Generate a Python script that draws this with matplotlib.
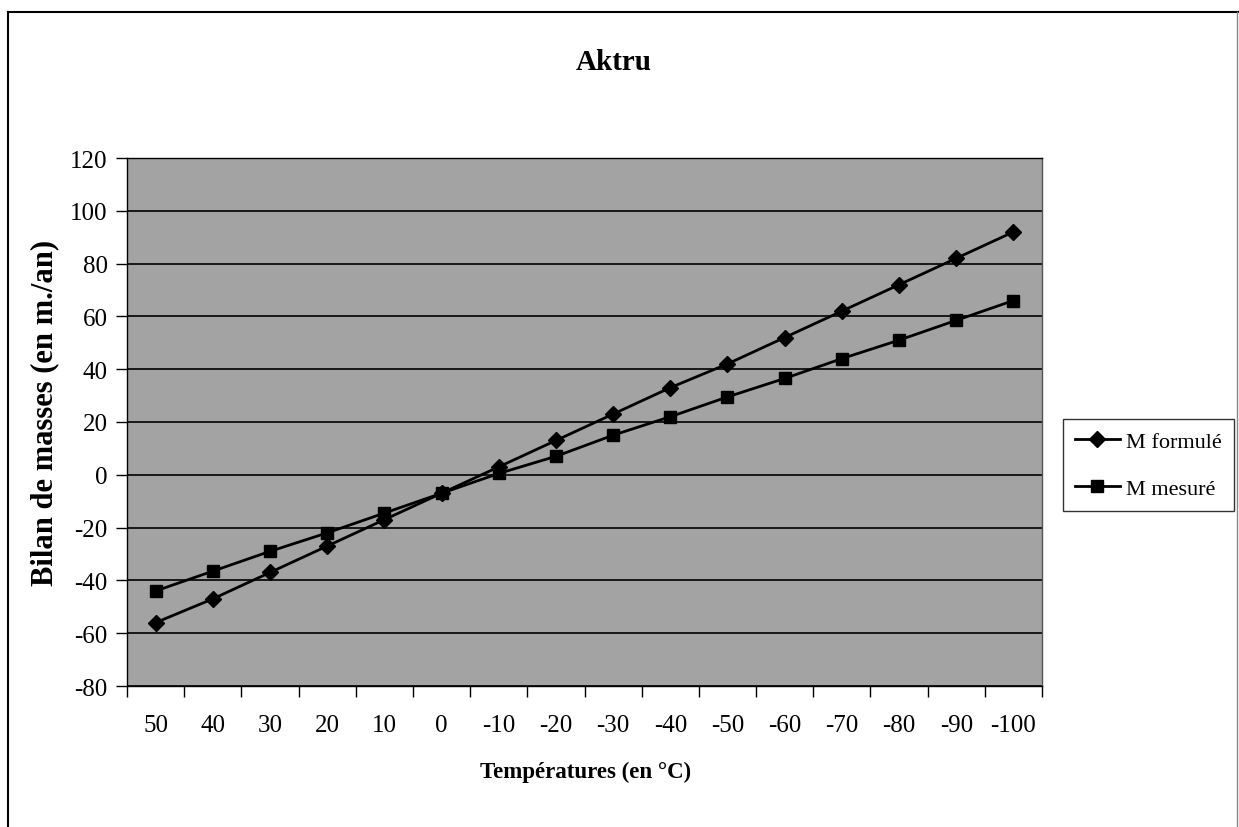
import numpy as np
import matplotlib
matplotlib.use("Agg")
import matplotlib.pyplot as plt
from matplotlib.lines import Line2D

# data
temperatures = ["50", "40", "30", "20", "10", "0", "-10", "-20", "-30", "-40",
                "-50", "-60", "-70", "-80", "-90", "-100"]
m_formule = [-56, -47, -37, -27, -17, -7, 3, 13, 23, 33, 42, 52, 62, 72, 82, 92]
m_mesure = [-44, -36.5, -29, -22, -14.5, -7, 0.5, 7, 15, 22, 29.5, 36.5, 44, 51, 58.5, 66]
y_ticks = [-80, -60, -40, -20, 0, 20, 40, 60, 80, 100, 120]

plt.rcParams['font.family'] = ['Liberation Serif', 'DejaVu Serif']

W, H = 1239, 828
fig = plt.figure(figsize=(W / 100, H / 100), dpi=100)

# outer frame of the chart object
fig.add_artist(Line2D([8 / W, 8 / W], [0, 1 - 13 / H], transform=fig.transFigure,
                      color='black', lw=1.5))
fig.add_artist(Line2D([8 / W, 1238 / W], [1 - 13 / H, 1 - 13 / H], transform=fig.transFigure,
                      color='black', lw=1.5))
fig.add_artist(Line2D([1237 / W, 1237 / W], [0, 1 - 13 / H], transform=fig.transFigure,
                      color='#888888', lw=1))

left, right, top, bottom = 127, 1042, 159, 687
ax = fig.add_axes([left / W, 1 - bottom / H, (right - left) / W, (bottom - top) / H])
ax.set_facecolor('#a3a3a3')

x = np.arange(len(temperatures))
ax.plot(x, m_formule, color='black', lw=2, marker='D', markersize=8,
        markerfacecolor='black', label='M formulé', zorder=3)
ax.plot(x, m_mesure, color='black', lw=2, marker='s', markersize=8,
        markerfacecolor='black', label='M mesuré', zorder=3)

ax.set_xlim(-0.5, len(temperatures) - 0.5)
ax.set_ylim(-80, 120)
ax.set_yticks(y_ticks)
ax.set_yticklabels([str(v) for v in y_ticks], fontsize=18)
ax.yaxis.grid(True, color='black', lw=1.2)
ax.set_axisbelow(True)

ax.set_xticks(x)
ax.set_xticklabels(temperatures, fontsize=18)
ax.set_xticks(np.arange(-0.5, len(temperatures)), minor=True)
ax.tick_params(axis='x', which='major', length=0, pad=20)
ax.tick_params(axis='x', which='minor', length=8, width=1, direction='out')
ax.tick_params(axis='y', which='major', length=8, width=1, direction='out', pad=6)

for s in ax.spines.values():
    s.set_color('black')
    s.set_linewidth(1)
ax.spines['right'].set_color('#555555')

fig.text(614 / W, 1 - 62 / H, 'Aktru', ha='center', va='center',
         fontsize=21, fontweight='bold')
fig.text(586 / W, 1 - 772 / H, 'Températures (en °C)', ha='center', va='center',
         fontsize=16.5, fontweight='bold')
fig.text(45 / W, 1 - 413 / H, 'Bilan de masses (en m./an)', ha='center', va='center',
         rotation=90, fontsize=22, fontweight='bold')

leg = ax.legend(loc='center left', bbox_to_anchor=(1063 / W, 1 - 466 / H),
                bbox_transform=fig.transFigure, frameon=True, fancybox=False,
                fontsize=16, handlelength=2.0, handletextpad=0.3, labelspacing=1.2,
                borderpad=0.55, borderaxespad=0)
leg.get_frame().set_edgecolor('black')
leg.get_frame().set_linewidth(1)

fig.savefig('out.png', dpi=100)
